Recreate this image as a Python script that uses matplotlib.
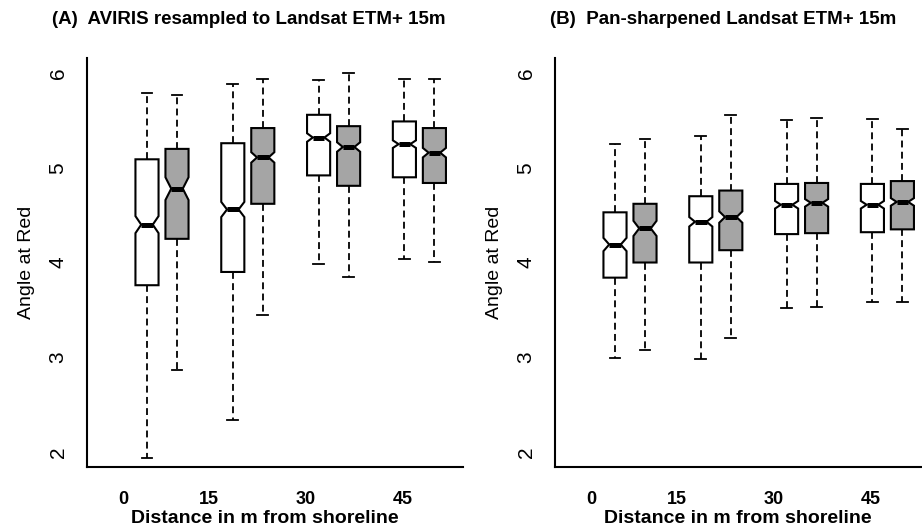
import matplotlib
matplotlib.use("Agg")
import matplotlib.pyplot as plt

plt.rcParams['font.family'] = ['Liberation Sans', 'DejaVu Sans']

# distance classes on x axis
distances = ['0', '15', '30', '45']
tick_pos = [1.2, 4.07, 7.3, 10.53]

# (A) AVIRIS resampled -- boxes come in pairs (white, grey) per distance
a_whislo = [1.93, 2.86, 2.34, 3.45, 3.98, 3.85, 4.04, 4.01]
a_q1 = [3.76, 4.25, 3.90, 4.62, 4.92, 4.81, 4.90, 4.84]
a_med = [4.40, 4.78, 4.56, 5.11, 5.32, 5.22, 5.25, 5.16]
a_q3 = [5.09, 5.20, 5.26, 5.42, 5.56, 5.44, 5.49, 5.42]
a_whishi = [5.79, 5.77, 5.89, 5.94, 5.93, 6.00, 5.94, 5.94]
a_notch = [0.09, 0.12, 0.08, 0.055, 0.045, 0.05, 0.04, 0.05]

# (B) pan-sharpened Landsat
b_whislo = [2.99, 3.08, 2.98, 3.20, 3.52, 3.53, 3.58, 3.58]
b_q1 = [3.84, 4.00, 4.00, 4.13, 4.30, 4.31, 4.32, 4.35]
b_med = [4.19, 4.36, 4.43, 4.48, 4.61, 4.63, 4.61, 4.64]
b_q3 = [4.53, 4.62, 4.70, 4.76, 4.83, 4.84, 4.83, 4.86]
b_whishi = [5.25, 5.30, 5.34, 5.56, 5.51, 5.53, 5.52, 5.41]
b_notch = [0.07, 0.08, 0.05, 0.06, 0.04, 0.04, 0.04, 0.04]

fills = ['white', '#a5a5a5'] * 4


def make_stats(whislo, q1, med, q3, whishi, notch):
    stats = []
    for i in range(len(med)):
        stats.append(dict(whislo=whislo[i], q1=q1[i], med=med[i], q3=q3[i],
                          whishi=whishi[i], cilo=med[i] - notch[i],
                          cihi=med[i] + notch[i], fliers=[]))
    return stats


def draw_panel(ax, stats, title, title_x, xlab_x):
    pos = []
    for i in range(4):
        c = 2.5 + 2.86 * i
        pos += [c - 0.5, c + 0.5]
    bp = ax.bxp(stats, positions=pos, widths=0.77, capwidths=0.36,
                shownotches=True, patch_artist=True, showfliers=False,
                boxprops=dict(edgecolor='black', linewidth=1.5),
                whiskerprops=dict(color='black', linewidth=1.3, linestyle=(0, (3.8, 2.4))),
                capprops=dict(color='black', linewidth=1.3),
                medianprops=dict(color='black', linewidth=3.6))
    for patch, col in zip(bp['boxes'], fills):
        patch.set_facecolor(col)

    ax.set_ylim(1.84, 6.16)
    ax.set_yticks([2, 3, 4, 5, 6])
    ax.set_xticks(tick_pos)
    ax.set_xticklabels(distances, fontweight='bold', fontsize=13)
    ax.tick_params(axis='x', length=0, pad=17)
    ax.tick_params(axis='y', length=0, pad=14, labelsize=15, labelrotation=90)
    for lab in ax.get_yticklabels():
        lab.set_va('center')
    ax.spines['top'].set_visible(False)
    ax.spines['right'].set_visible(False)
    ax.spines['left'].set_linewidth(1.5)
    ax.spines['bottom'].set_linewidth(1.5)
    ax.set_ylabel('Angle at Red', fontsize=14, labelpad=10)
    ax.set_xlabel('Distance in m from shoreline', fontweight='bold', fontsize=14)
    ax.xaxis.set_label_coords(xlab_x, -43 / 409, transform=ax.transAxes)
    fig.text(title_x, 1 - 20 / 532, title, fontweight='bold', fontsize=13.5,
             ha='left', va='center')


fig = plt.figure(figsize=(9.22, 5.32), dpi=100)
ax1 = fig.add_axes([87 / 922, 65 / 532, 376 / 922, 409 / 532])
ax1.set_xlim(0, 376 / 30)
draw_panel(ax1, make_stats(a_whislo, a_q1, a_med, a_q3, a_whishi, a_notch),
           '(A)  AVIRIS resampled to Landsat ETM+ 15m', 52 / 922, 0.473)

ax2 = fig.add_axes([555 / 922, 65 / 532, 367 / 922, 409 / 532])
ax2.set_xlim(0, 367 / 30)
draw_panel(ax2, make_stats(b_whislo, b_q1, b_med, b_q3, b_whishi, b_notch),
           '(B)  Pan-sharpened Landsat ETM+ 15m', 550 / 922, 0.497)

fig.savefig('out.png', dpi=100)
